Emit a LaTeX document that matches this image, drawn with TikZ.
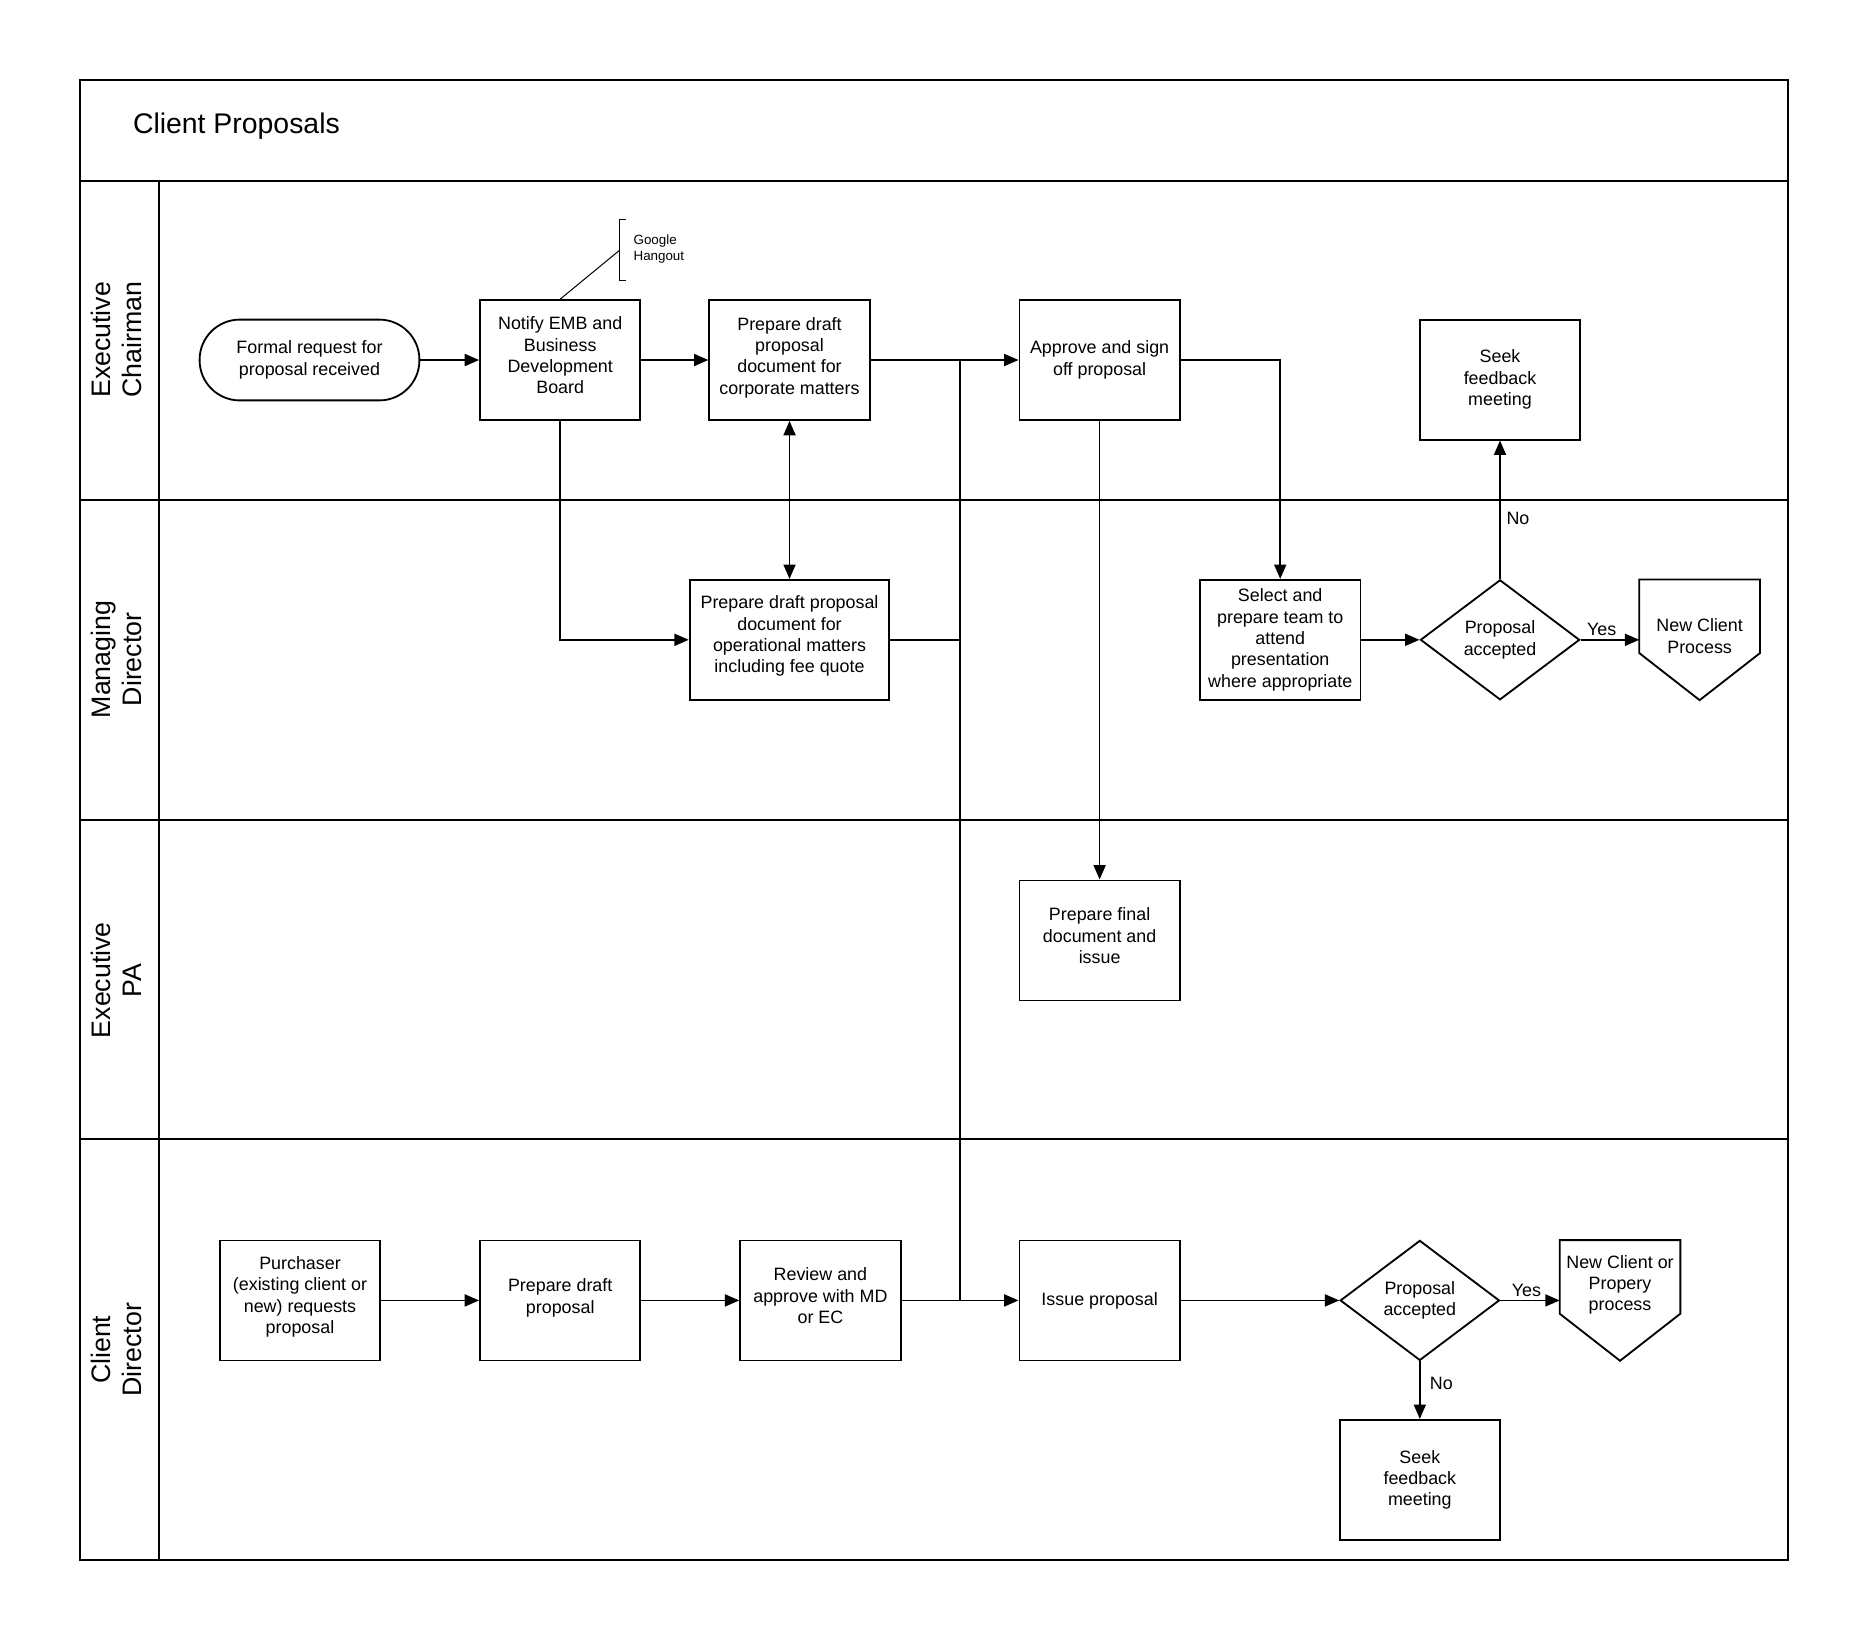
\documentclass[tikz,border=0pt]{standalone}
\usepackage{fontspec}
\setmainfont{Liberation Sans}
\usetikzlibrary{arrows.meta,shapes.geometric,calc}
\begin{document}
\begin{tikzpicture}[x=0.025cm,y=-0.025cm,
  frame/.style={line width=1.2pt},
  bodyfont/.style={font=\fontsize{10.7}{12.8}\selectfont},
  proc/.style={draw, line width=1.1pt, minimum width=135*0.025cm, minimum height=101*0.025cm, align=center, inner sep=1pt, bodyfont},
  term/.style={draw, line width=1.1pt, rounded corners=24pt, minimum width=185*0.025cm, minimum height=68*0.025cm, align=center, inner sep=1pt, bodyfont},
  dec/.style={draw, diamond, line width=1.1pt, minimum width=134*0.025cm, minimum height=101*0.025cm, inner sep=0pt, align=center, bodyfont},
  offpg/.style={minimum width=101*0.025cm, minimum height=101*0.025cm, inner sep=0pt},
  lanelab/.style={rotate=90, align=center, font=\fontsize{16}{18.4}\selectfont},
  conn/.style={line width=1pt},
  arr/.style={conn, -{Triangle[length=8.6pt,width=7.2pt]}},
  lbl/.style={bodyfont, inner sep=2pt}
]
\useasboundingbox (0,0) rectangle (1568,1383);

% frame and lanes
\draw[frame] (67,67) rectangle (1505,1313);
\draw[frame] (67,152) -- (1505,152);
\draw[frame] (134,152) -- (134,1313);
\draw[frame] (67,421) -- (1505,421);
\draw[frame] (67,690) -- (1505,690);
\draw[frame] (67,959) -- (1505,959);

\node[anchor=west, font=\fontsize{17}{20}\selectfont] (title) at (107,106) {Client Proposals};

\node[lanelab] (lEC) at (98,286) {Executive\\Chairman};
\node[lanelab] (lMD) at (98,555) {Managing\\Director};
\node[lanelab] (lPA) at (98,825) {Executive\\PA};
\node[lanelab] (lCD) at (98,1136) {Client\\Director};

% Executive Chairman lane
\node[term] (start) at (260.5,303) {Formal request for\\proposal received};
\node[proc, text depth=5.6pt] (notify) at (471.5,303) {Notify EMB and\\Business\\Development\\Board};
\node[proc, text depth=5.1pt] (corp) at (664.5,303) {Prepare draft\\proposal\\document for\\corporate matters};
\node[proc] (approve) at (925.5,303) {Approve and sign\\off proposal};
\node[proc] (seek1) at (1262.5,319.5) {Seek\\feedback\\meeting};

% Google Hangout annotation
\coordinate (gh) at (521,211);
\draw[line width=0.6pt] (527,185) -- (521,185) -- (521,236) -- (527,236);
\draw[line width=0.6pt] (notify.north) -- (gh);
\node[anchor=west, align=left, inner sep=0pt, font=\fontsize{8}{9.2}\selectfont] (ghtext) at (533,209.5) {Google\\Hangout};

% Managing Director lane
\node[proc, minimum width=168*0.025cm, text depth=6.5pt] (ops) at (664.5,538.5) {Prepare draft proposal\\document for\\operational matters\\including fee quote};
\node[proc] (select) at (1077.5,538.5) {Select and\\prepare team to\\attend\\presentation\\where appropriate};
\node[dec] (dec1) at (1262.5,538.5) {Proposal\\accepted};
\node[offpg] (nc1) at (1430.5,538.5) {};
\draw[line width=1.1pt] (nc1.north west) -- (nc1.north east) -- ($(nc1.north east)!0.61!(nc1.south east)$) -- (nc1.south) -- ($(nc1.north west)!0.61!(nc1.south west)$) -- cycle;
\node[bodyfont, align=center] (nc1t) at ($(nc1.center)+(0,-3)$) {New Client\\Process};

% Executive PA lane
\node[proc, text depth=5.6pt] (final) at (925.5,791.5) {Prepare final\\document and\\issue};

% Client Director lane
\node[proc, text depth=6.5pt] (purch) at (252.5,1094.5) {Purchaser\\(existing client or\\new) requests\\proposal};
\node[proc, text depth=5.1pt] (draft) at (471.5,1094.5) {Prepare draft\\proposal};
\node[proc, text depth=5.6pt] (review) at (690.5,1094.5) {Review and\\approve with MD\\or EC};
\node[proc] (issue) at (925.5,1094.5) {Issue proposal};
\node[dec] (dec2) at (1195,1094.5) {Proposal\\accepted};
\node[offpg] (nc2) at (1363.5,1094.5) {};
\draw[line width=1.1pt] (nc2.north west) -- (nc2.north east) -- ($(nc2.north east)!0.61!(nc2.south east)$) -- (nc2.south) -- ($(nc2.north west)!0.61!(nc2.south west)$) -- cycle;
\node[bodyfont, align=center] (nc2t) at ($(nc2.center)+(0,-13)$) {New Client or\\Propery\\process};
\node[proc] (seek2) at (1195,1245.5) {Seek\\feedback\\meeting};

% connectors
\coordinate (j1) at (808,303);
\coordinate (j2) at (808,1094.5);
\draw[arr] (start) -- (notify);
\draw[arr] (notify) -- (corp);
\draw[arr] (corp) -- (approve);
\draw[conn] (j1) -- (j2);
\draw[conn] (ops.east) -- (ops.east -| j1);
\draw[arr] (notify.south) |- (ops.west);
\draw[conn, {Triangle[length=8.6pt,width=7.2pt]}-{Triangle[length=8.6pt,width=7.2pt]}] (corp.south) -- (ops.north);
\draw[arr] (approve.east) -| (select.north);
\draw[arr] (approve.south) -- (final.north);
\draw[arr] (select) -- (dec1);
\draw[arr] (dec1.north) -- node[lbl, right, pos=0.44, xshift=2*0.025cm] {No} (seek1.south);
\draw[arr] (dec1.east) -- node[lbl, above, xshift=-7*0.025cm] {Yes} (nc1.west);

\draw[arr] (purch) -- (draft);
\draw[arr] (draft) -- (review);
\draw[arr] (review) -- (issue);
\draw[arr] (issue) -- (dec2);
\draw[arr] (dec2.east) -- node[lbl, above, xshift=-3*0.025cm] {Yes} (nc2.west);
\draw[arr] (dec2.south) -- node[lbl, right, pos=0.38, xshift=5*0.025cm] {No} (seek2.north);
\end{tikzpicture}
\end{document}
